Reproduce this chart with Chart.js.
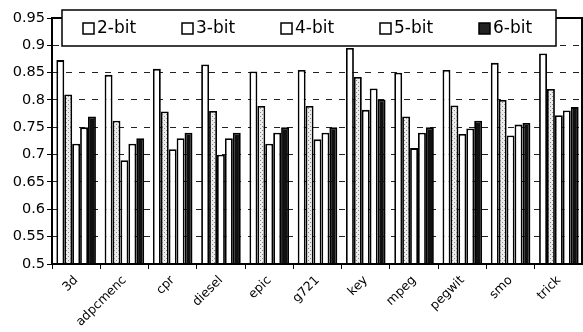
<!DOCTYPE html>
<html lang="en">
  <head>
    <meta charset="UTF-8" />
    <title>Bit width comparison</title>
    <script src="https://cdn.jsdelivr.net/npm/chart.js@4.4.1/dist/chart.umd.min.js"></script>
    <style>
      body { margin: 0; background: #fff; }
      #wrap { width: 583px; height: 332px; position: relative; }
    </style>
  </head>
  <body>
    <div id="wrap"><canvas id="bitChart"></canvas></div>

    <script>
      const categories = ["3d", "adpcmenc", "cpr", "diesel", "epic", "g721", "key", "mpeg", "pegwit", "smo", "trick"];
      const seriesNames = ["2-bit", "3-bit", "4-bit", "5-bit", "6-bit"];
      const bit2 = [0.873, 0.846, 0.857, 0.865, 0.852, 0.855, 0.895, 0.850, 0.855, 0.868, 0.885];
      const bit3 = [0.810, 0.762, 0.779, 0.780, 0.789, 0.789, 0.842, 0.770, 0.790, 0.800, 0.820];
      const bit4 = [0.720, 0.690, 0.710, 0.700, 0.720, 0.728, 0.782, 0.712, 0.738, 0.735, 0.772];
      const bit5 = [0.750, 0.720, 0.730, 0.730, 0.740, 0.740, 0.821, 0.740, 0.748, 0.755, 0.781];
      const bit6 = [0.770, 0.730, 0.740, 0.740, 0.750, 0.750, 0.801, 0.750, 0.762, 0.758, 0.787];
      const yTicks = [0.5, 0.55, 0.6, 0.65, 0.7, 0.75, 0.8, 0.85, 0.9, 0.95];

      // stippled grey fill, like the scanned 3-bit bars
      function stipple(base, dot) {
        const c = document.createElement("canvas");
        c.width = 4;
        c.height = 4;
        const g = c.getContext("2d");
        g.fillStyle = base;
        g.fillRect(0, 0, 4, 4);
        g.fillStyle = dot;
        g.fillRect(0, 0, 1, 1);
        g.fillRect(2, 2, 1, 1);
        return g.createPattern(c, "repeat");
      }

      const fills = ["#ffffff", stipple("#ececec", "#888"), "#ffffff", "#ffffff", "#111111"];
      const legendFills = ["#ffffff", "#ffffff", "#ffffff", "#ffffff", "#222222"];
      const values = [bit2, bit3, bit4, bit5, bit6];

      const frameAndLegend = {
        id: "frameAndLegend",
        afterDraw(chart) {
          const ctx = chart.ctx;
          const a = chart.chartArea;
          ctx.save();
          ctx.strokeStyle = "#000";
          ctx.lineWidth = 2;
          ctx.strokeRect(a.left, a.top, a.right - a.left - 1, a.bottom - a.top);

          // legend box sits on top of the plot
          ctx.fillStyle = "#fff";
          ctx.fillRect(62, 10, 494, 36);
          ctx.lineWidth = 1.5;
          ctx.strokeRect(62, 10, 494, 36);
          ctx.font = "17px 'DejaVu Sans'";
          ctx.textBaseline = "middle";
          chart.data.datasets.forEach((ds, i) => {
            const x = 83 + i * 99;
            ctx.fillStyle = legendFills[i];
            ctx.fillRect(x, 23, 11, 11);
            ctx.lineWidth = 1.5;
            ctx.strokeStyle = "#000";
            ctx.strokeRect(x, 23, 11, 11);
            ctx.fillStyle = "#000";
            ctx.fillText(ds.label, x + 14, 29);
          });
          ctx.restore();
        },
      };

      const ctx = document.getElementById("bitChart").getContext("2d");
      new Chart(ctx, {
        type: "bar",
        data: {
          labels: categories,
          datasets: seriesNames.map((name, i) => ({
            label: name,
            data: values[i],
            backgroundColor: fills[i],
            borderColor: "#000",
            borderWidth: 1.8,
            categoryPercentage: 0.82,
            barPercentage: 1.0,
          })),
        },
        options: {
          responsive: true,
          maintainAspectRatio: false,
          animation: false,
          layout: { padding: { top: 18, right: 0, left: 0, bottom: 0 } },
          plugins: {
            legend: { display: false },
            tooltip: { enabled: false },
          },
          scales: {
            x: {
              offset: true,
              afterFit: (s) => { s.height = 68; },
              grid: { display: true, drawOnChartArea: false, tickLength: 5, tickColor: "#000" },
              border: { display: true, color: "#000", width: 2 },
              ticks: {
                minRotation: 45,
                maxRotation: 45,
                padding: 4,
                color: "#000",
                font: { family: "'DejaVu Sans'", size: 12.5 },
              },
            },
            y: {
              min: 0.5,
              max: 0.95,
              afterFit: (s) => { s.width = 52; },
              afterBuildTicks: (s) => { s.ticks = yTicks.map((v) => ({ value: v })); },
              grid: { color: "#222", lineWidth: 1, tickLength: 5, tickColor: "#000" },
              border: { display: true, color: "#000", width: 2, dash: [6, 7] },
              ticks: {
                padding: 2,
                color: "#000",
                font: { family: "'DejaVu Sans'", size: 14.5 },
                callback: (v) => String(Number(v.toFixed(2))),
              },
            },
          },
        },
        plugins: [frameAndLegend],
      });
    </script>
  </body>
</html>
